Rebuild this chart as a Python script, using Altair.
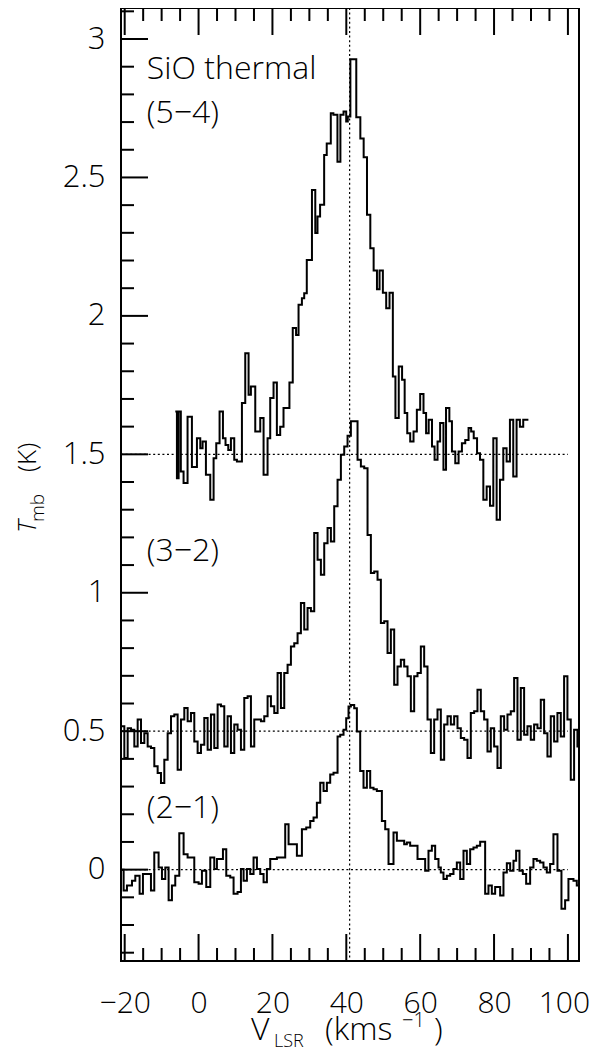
import altair as alt
import pandas as pd

# ---------------- data ----------------
# SiO (5-4): channel left edges (km/s, last entry = right end) and T_mb (K)
V54_EDGES = [-6.3, -5.86, -5.4, -4.8, -4.06, -2.98, -1.8, -0.44, 0.46, 1.09,
             1.99, 3.17, 4.07, 4.79, 5.69, 6.6, 7.3, 8.04, 8.76, 9.66,
             10.38, 11.74, 12.64, 13.54, 14.17, 15.35, 16.7, 17.6, 18.68, 19.4,
             20.3, 21.2, 22.1, 23.0, 24.6, 25.5, 26.4, 27.07, 27.98, 28.6,
             29.3, 30.7, 31.6, 32.2, 32.9, 34.0, 34.7, 35.8, 36.5, 37.6,
             38.4, 39.25, 39.97, 40.4, 41.1, 42.7, 43.8, 44.7, 45.6, 46.5,
             47.4, 48.3, 49.0, 49.9, 50.8, 51.7, 52.6, 53.3, 54.2, 55.1,
             55.8, 56.5, 57.3, 58.2, 59.1, 60.0, 60.9, 61.6, 62.3, 63.2,
             63.9, 64.7, 65.4, 66.3, 67.0, 67.9, 68.6, 69.5, 70.4, 71.3,
             72.2, 73.1, 73.8, 74.5, 75.4, 76.2, 77.1, 78.0, 78.9, 79.8,
             80.7, 81.6, 82.5, 83.4, 84.3, 85.2, 86.1, 87.0, 87.9, 89.3]
T54 = [0.155, -0.086, 0.155, -0.062, -0.104, 0.136, -0.046, 0.058, 0.022, 0.046,
       -0.074, -0.164, -0.014, 0.040, 0.155, 0.058, 0.034, 0.016, 0.058, -0.020,
       -0.026, 0.185, 0.365, 0.215, 0.245, 0.082, 0.131, -0.074, 0.058, 0.203,
       0.259, 0.070, 0.100, 0.167, 0.259, 0.456, 0.431, 0.540, 0.564, 0.582,
       0.702, 0.955, 0.799, 0.859, 0.901, 1.081, 1.123, 1.232, 1.226, 1.057,
       1.226, 1.238, 1.202, 1.220, 1.427, 1.217, 1.141, 1.073, 0.865, 0.744,
       0.664, 0.596, 0.664, 0.584, 0.528, 0.584, 0.281, 0.131, 0.317, 0.269,
       0.149, 0.076, 0.046, 0.082, 0.161, 0.218, 0.149, 0.076, 0.125, 0.028,
       -0.020, 0.046, 0.113, -0.056, 0.167, 0.119, 0.010, -0.032, 0.010, 0.040,
       0.052, 0.095, 0.082, 0.058, 0.004, -0.020, -0.164, -0.116, -0.186, 0.058,
       -0.236, -0.092, 0.022, -0.026, 0.125, -0.080, 0.125, 0.100, 0.125]

# SiO (3-2): regular channels, first left edge and channel width (km/s)
V32_START = -21.0
V32_WIDTH = 0.902
T32 = [0.018, -0.097, 0.011, 0.005, -0.055, 0.042, -0.043, -0.007, -0.055, -0.061,
       -0.127, -0.151, -0.187, -0.103, -0.007, 0.054, 0.060, -0.139, 0.042, 0.084,
       0.036, 0.066, -0.037, -0.079, -0.049, 0.048, -0.067, 0.060, -0.061, 0.096,
       0.090, -0.055, 0.054, -0.079, 0.024, 0.005, -0.067, 0.120, 0.126, -0.055,
       0.042, 0.042, 0.036, 0.054, 0.126, 0.090, 0.066, 0.210, 0.084, 0.210,
       0.240, 0.306, 0.318, 0.354, 0.463, 0.367, 0.445, 0.433, 0.716, 0.619,
       0.565, 0.679, 0.734, 0.685, 0.812, 0.908, 0.998, 1.028, 1.067, 1.119,
       1.119, 0.980, 0.956, 0.950, 0.709, 0.571, 0.577, 0.547, 0.391, 0.397,
       0.282, 0.367, 0.168, 0.234, 0.258, 0.234, 0.198, 0.072, 0.198, 0.210,
       0.306, 0.234, 0.042, -0.079, 0.042, 0.078, -0.103, 0.024, 0.054, 0.024,
       0.054, 0.011, -0.025, -0.031, -0.097, 0.066, 0.072, 0.150, 0.072, 0.042,
       -0.073, 0.011, -0.055, -0.133, 0.054, 0.005, 0.060, 0.072, 0.192, -0.031,
       0.156, -0.013, 0.018, -0.031, 0.024, 0.011, 0.114, -0.007, -0.091, 0.054,
       -0.037, 0.066, -0.019, 0.198, 0.042, -0.175, 0.005, -0.055]

# SiO (2-1): channel left edges (last entry = right end) and T_mb (K)
V21_EDGES = [-21.01, -20.29, -19.39, -18.03, -17.13, -15.96, -15.06, -13.97, -12.89, -11.99,
             -10.82, -9.91, -9.01, -8.11, -7.21, -6.31, -5.22, -4.05, -2.97, -2.07,
             -1.16, 0.01, 0.91, 2.08, 3.17, 4.25, 4.97, 5.87, 6.6, 7.5,
             8.58, 9.48, 10.56, 11.47, 12.19, 13.09, 13.99, 14.89, 15.80, 16.70,
             17.60, 18.50, 19.40, 20.31, 21.21, 22.56, 23.46, 24.37, 25.72, 26.62,
             27.98, 29.15, 30.23, 31.13, 32.03, 32.94, 33.84, 34.74, 35.64, 36.54,
             37.63, 38.35, 39.25, 39.97, 40.60, 41.24, 42.14, 42.86, 43.76, 44.66,
             45.57, 46.47, 47.37, 48.27, 49.63, 50.53, 51.43, 52.78, 53.69, 54.59,
             55.67, 56.39, 57.29, 58.20, 59.28, 60.18, 61.35, 62.25, 63.16, 64.06,
             64.96, 65.59, 66.31, 67.22, 68.12, 69.02, 69.92, 70.83, 71.73, 72.63,
             73.53, 74.43, 75.34, 76.24, 77.59, 78.49, 79.40, 80.30, 81.65, 82.55,
             83.46, 84.36, 85.26, 85.98, 86.88, 87.79, 88.69, 89.77, 90.67, 91.57,
             92.48, 93.38, 94.28, 95.18, 96.08, 97.17, 98.25, 99.24, 100.14, 101.50,
             102.40, 103.03]
T21 = [0.000, -0.075, -0.057, -0.040, -0.022, -0.087, -0.016, -0.016, -0.075, 0.062,
       0.008, -0.034, 0.008, -0.111, -0.057, -0.022, 0.131, 0.056, 0.044, 0.044,
       -0.046, -0.051, -0.004, -0.063, 0.044, 0.002, 0.038, 0.038, 0.074, -0.022,
       -0.028, -0.087, -0.081, 0.002, -0.040, 0.002, -0.016, 0.044, 0.002, -0.016,
       -0.046, 0.002, 0.038, 0.038, 0.044, 0.044, 0.164, 0.092, 0.092, 0.050,
       0.146, 0.152, 0.176, 0.188, 0.242, 0.314, 0.284, 0.314, 0.344, 0.350,
       0.481, 0.487, 0.505, 0.547, 0.589, 0.595, 0.583, 0.499, 0.356, 0.296,
       0.356, 0.296, 0.290, 0.284, 0.176, 0.146, 0.020, 0.134, 0.104, 0.104,
       0.092, 0.098, 0.086, 0.086, 0.038, 0.038, -0.004, 0.068, 0.086, 0.038,
       0.008, -0.010, -0.034, -0.022, -0.016, 0.002, 0.026, -0.034, 0.068, 0.020,
       0.074, 0.080, 0.086, 0.101, -0.087, -0.057, -0.087, -0.063, -0.093, -0.010,
       0.023, -0.004, 0.032, 0.068, -0.004, -0.016, -0.051, 0.008, 0.038, 0.032,
       0.026, 0.008, -0.010, 0.020, 0.128, -0.004, -0.141, -0.111, -0.034, -0.040,
       -0.057]

# vertical offsets of the three spectra (K) and their labels
SERIES = ["(5−4)", "(3−2)", "(2−1)"]
OFFSETS = [1.5, 0.5, 0.0]
LABEL_T = [2.697, 1.116, 0.188]
TITLE_LABEL = "SiO thermal"
TITLE_T = 2.856
LABEL_V = -14.0

V_SYS = 40.9          # systemic velocity (vertical dotted line)
DOTTED_END = 100.0    # right end of the dotted baselines

X_DOMAIN = [-21.0, 103.0]
Y_DOMAIN = [-0.33, 3.112]
X_MAJOR = [-20, 0, 20, 40, 60, 80, 100]
X_MINOR = [-15, -10, -5, 5, 10, 15, 25, 30, 35, 45, 50, 55, 65, 70, 75, 85, 90, 95]
Y_MAJOR = [0, 0.5, 1, 1.5, 2, 2.5, 3]
Y_MINOR = [-0.3, -0.2, -0.1, 0.1, 0.2, 0.3, 0.4, 0.6, 0.7, 0.8, 0.9, 1.1, 1.2, 1.3,
           1.4, 1.6, 1.7, 1.8, 1.9, 2.1, 2.2, 2.3, 2.4, 2.6, 2.7, 2.8, 2.9, 3.1]

# ---------------- build tables ----------------
W, H = 458, 953
FONT = "Open Sans"
FW = 300

rows = []
def add(edges, vals, off, name):
    vv = list(vals) + [vals[-1]]
    for e, t in zip(edges, vv):
        rows.append({"v": e, "t": round(t + off, 4), "s": name})

v32_edges = [round(V32_START + V32_WIDTH * i, 3) for i in range(len(T32) + 1)]
add(V54_EDGES, T54, OFFSETS[0], SERIES[0])
add(v32_edges, T32, OFFSETS[1], SERIES[1])
add(V21_EDGES, T21, OFFSETS[2], SERIES[2])
spec_df = pd.DataFrame(rows)

xs = alt.Scale(domain=X_DOMAIN, nice=False, zero=False)
ys = alt.Scale(domain=Y_DOMAIN, nice=False, zero=False)

x_axis = alt.Axis(values=X_MAJOR, ticks=False, domain=False, grid=False,
                  labelFontSize=30, labelFont=FONT, labelFontWeight=FW, labelColor="black",
                  labelPadding=27, labelOverlap=False,
                  labelOffset={"condition": {"test": "datum.value >= 100", "value": -4},
                               "value": 0},
                  labelExpr="datum.value < 0 ? '\u2212' + abs(datum.value) : '' + datum.value",
                  title="")
y_axis = alt.Axis(values=Y_MAJOR, ticks=False, domain=False, grid=False,
                  labelFontSize=31, labelFont=FONT, labelFontWeight=FW, labelColor="black",
                  labelPadding=16, labelOverlap=False,
                  labelExpr="'' + datum.value", title="")

def X(field):
    return alt.X(field, scale=xs, axis=x_axis)

def Y(field):
    return alt.Y(field, scale=ys, axis=y_axis)

spectra = alt.Chart(spec_df).mark_line(
    interpolate="step-after", color="black", strokeWidth=2, clip=True
).encode(x=X("v:Q"), y=Y("t:Q"), detail="s:N")

hl_df = pd.DataFrame({"t": OFFSETS, "v0": [X_DOMAIN[0]] * 3, "v1": [DOTTED_END] * 3})
hlines = alt.Chart(hl_df).mark_rule(color="black", strokeWidth=1.2, strokeDash=[2, 2.6]).encode(
    x=X("v0:Q"), x2="v1:Q", y=Y("t:Q")
)
vline = alt.Chart(pd.DataFrame({"v": [V_SYS]})).mark_rule(
    color="black", strokeWidth=1.2, strokeDash=[2, 2.6]
).encode(x=X("v:Q"))

def xticks(vals, length, top):
    y0, y1 = (0, length) if top else (H, H - length)
    return alt.Chart(pd.DataFrame({"v": vals})).mark_rule(color="black", strokeWidth=2).encode(
        x=X("v:Q"), y=alt.value(y0), y2=alt.value(y1))

def yticks(vals, length):
    return alt.Chart(pd.DataFrame({"t": vals})).mark_rule(color="black", strokeWidth=2).encode(
        y=Y("t:Q"), x=alt.value(0), x2=alt.value(length))

ticks = [xticks(X_MAJOR, 27, False), xticks(X_MINOR, 13, False),
         xticks(X_MAJOR, 27, True), xticks(X_MINOR, 13, True),
         yticks(Y_MAJOR, 27), yticks(Y_MINOR, 13)]

lab_df = pd.DataFrame({"txt": [TITLE_LABEL] + SERIES,
                       "v": [LABEL_V] * 4,
                       "t": [TITLE_T] + LABEL_T})
labels = alt.Chart(lab_df).mark_text(
    align="left", baseline="alphabetic", fontSize=32, font=FONT, fontWeight=FW, color="black"
).encode(x=X("v:Q"), y=Y("t:Q"), text="txt:N")

one = pd.DataFrame({"a": [0]})
def ptext(txt, x, y, size, angle=0, style="normal"):
    return alt.Chart(one).mark_text(
        align="left", baseline="alphabetic", fontSize=size, font=FONT, fontWeight=FW,
        fontStyle=style, angle=angle, color="black"
    ).encode(x=alt.value(x), y=alt.value(y), text=alt.value(txt))

titles = [
    ptext("T", -85, 525, 26, 270, "italic"),
    ptext("mb", -77, 514, 19, 270),
    ptext("(K)", -85, 464, 26, 270),
    ptext("V", 130, 1032, 32),
    ptext("LSR", 153, 1039, 18),
    ptext("(kms", 204, 1032, 32),
    ptext("\u22121", 281, 1019, 20),
    ptext(")", 313, 1032, 32),
]

chart = alt.layer(spectra, hlines, vline, *ticks, labels, *titles).properties(
    width=W, height=H,
    padding={"left": 113, "top": 0, "right": 13, "bottom": 90},
    autosize=alt.AutoSizeParams(type="none"),
).configure_view(stroke="black", strokeWidth=2)

chart.save("out.html", embed_options={"renderer": "svg", "actions": False})
